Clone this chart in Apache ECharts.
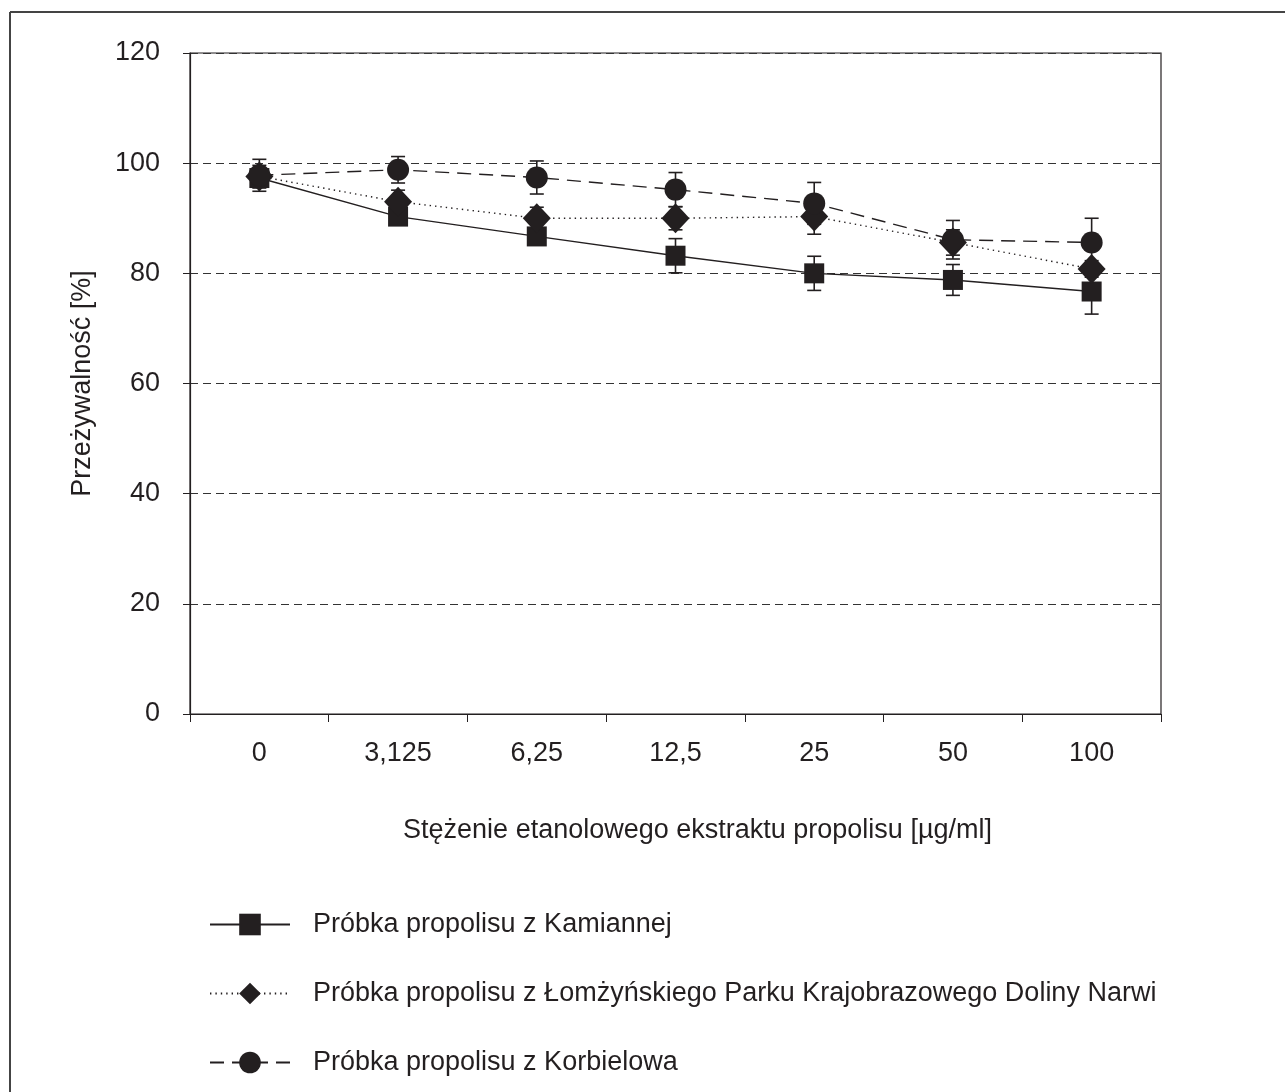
<!DOCTYPE html>
<html>
<head>
<meta charset="utf-8">
<script src="https://cdn.jsdelivr.net/npm/echarts@6/dist/echarts.min.js"></script>
<style>
  html, body { margin: 0; padding: 0; background: #fff; }
  #chart { width: 1285px; height: 1092px; }
</style>
</head>
<body>
<div id="chart"></div>
<script>
var categories = ['0', '3,125', '6,25', '12,5', '25', '50', '100'];

var names = [
    'Próbka propolisu z Kamiannej',
    'Próbka propolisu z Łomżyńskiego Parku Krajobrazowego Doliny Narwi',
    'Próbka propolisu z Korbielowa'
];

// srednie [%]
var kamiannej = [97.3, 90.3, 86.7, 83.2, 80.0, 78.8, 76.7];
var lomza = [97.6, 93.0, 90.0, 90.0, 90.3, 85.6, 80.8];
var korbielowo = [97.8, 98.8, 97.4, 95.2, 92.7, 86.1, 85.6];

// odchylenia (slupki bledow)
var kamiannejErr = [1.8, 1.5, 1.5, 3.1, 3.1, 2.8, 4.1];
var lomzaErr = [2.0, 2.1, 2.0, 2.1, 3.2, 2.3, 1.5];
var korbielowoErr = [2.9, 2.4, 3.0, 3.1, 3.8, 3.5, 4.4];

var yTicks = [0, 20, 40, 60, 80, 100, 120];

var ink = '#231f20';
var font = 'Liberation Sans, Arial, Helvetica, sans-serif';
var fs = 27;

function errData(vals, errs) {
    return vals.map(function (v, i) {
        return [i, v - errs[i], v + errs[i]];
    });
}

function errorSeries(vals, errs) {
    return {
        type: 'custom',
        silent: true,
        z: 1,
        data: errData(vals, errs),
        renderItem: function (params, api) {
            var lo = api.coord([api.value(0), api.value(1)]);
            var hi = api.coord([api.value(0), api.value(2)]);
            var w = 7;
            var st = { stroke: ink, lineWidth: 1.6 };
            return {
                type: 'group',
                children: [
                    { type: 'line', shape: { x1: lo[0], y1: lo[1], x2: hi[0], y2: hi[1] }, style: st },
                    { type: 'line', shape: { x1: lo[0] - w, y1: lo[1], x2: lo[0] + w, y2: lo[1] }, style: st },
                    { type: 'line', shape: { x1: hi[0] - w, y1: hi[1], x2: hi[0] + w, y2: hi[1] }, style: st }
                ]
            };
        }
    };
}

var myChart = echarts.init(document.getElementById('chart'));

var option = {
    animation: false,
    backgroundColor: '#fff',
    textStyle: { fontFamily: font, color: ink },
    grid: {
        left: 190, right: 124, top: 53, bottom: 378,
        show: true, borderColor: ink, borderWidth: 1.2, backgroundColor: 'transparent'
    },
    legend: {
        orient: 'vertical',
        left: 204,
        top: 906,
        itemWidth: 80,
        itemHeight: 27,
        itemGap: 42,
        data: names,
        textStyle: { fontSize: fs, color: ink, fontFamily: font, padding: [0, 0, 0, 18] }
    },
    xAxis: {
        type: 'category',
        data: categories,
        boundaryGap: true,
        name: 'Stężenie etanolowego ekstraktu propolisu [µg/ml]',
        nameLocation: 'middle',
        nameGap: 103,
        nameTextStyle: { fontSize: fs, color: ink, fontFamily: font, padding: [0, 0, 0, 44] },
        axisLine: { lineStyle: { color: ink, width: 1.2 } },
        axisTick: { show: true, inside: false, length: 8, lineStyle: { color: ink } },
        axisLabel: { fontSize: fs, color: ink, margin: 26, fontFamily: font },
        splitLine: { show: false }
    },
    yAxis: {
        type: 'value',
        min: 0,
        max: 120,
        interval: 20,
        name: 'Przeżywalność [%]',
        nameLocation: 'middle',
        nameGap: 94,
        nameTextStyle: { fontSize: fs, color: ink, fontFamily: font },
        axisLine: { show: true, lineStyle: { color: ink, width: 1.2 } },
        axisTick: { show: true, inside: false, length: 7, lineStyle: { color: ink } },
        axisLabel: {
            fontSize: fs, color: ink, margin: 30, fontFamily: font,
            formatter: function (v) { return yTicks.indexOf(v) >= 0 ? String(v) : ''; }
        },
        splitLine: { show: true, lineStyle: { color: '#333', type: [8, 5], width: 1 } }
    },
    series: [
        errorSeries(kamiannej, kamiannejErr),
        errorSeries(lomza, lomzaErr),
        errorSeries(korbielowo, korbielowoErr),
        {
            name: names[0],
            type: 'line',
            data: kamiannej,
            symbol: 'rect',
            symbolSize: 20,
            z: 3,
            lineStyle: { color: ink, width: 1.4, type: 'solid' },
            itemStyle: { color: ink, borderWidth: 0 }
        },
        {
            name: names[1],
            type: 'line',
            data: lomza,
            symbol: 'diamond',
            symbolSize: [28, 30],
            z: 3,
            lineStyle: { color: ink, width: 1.4, type: [1.4, 4] },
            itemStyle: { color: ink, borderWidth: 0 }
        },
        {
            name: names[2],
            type: 'line',
            data: korbielowo,
            symbol: 'circle',
            symbolSize: 22,
            z: 3,
            lineStyle: { color: ink, width: 1.4, type: [14, 8] },
            itemStyle: { color: ink, borderWidth: 0 }
        }
    ],
    graphic: [
        { type: 'line', shape: { x1: 10, y1: 12, x2: 1285, y2: 12 }, style: { stroke: '#444', lineWidth: 2 } },
        { type: 'line', shape: { x1: 10, y1: 12, x2: 10, y2: 1092 }, style: { stroke: '#444', lineWidth: 2 } }
    ]
};

myChart.setOption(option);
</script>
</body>
</html>
